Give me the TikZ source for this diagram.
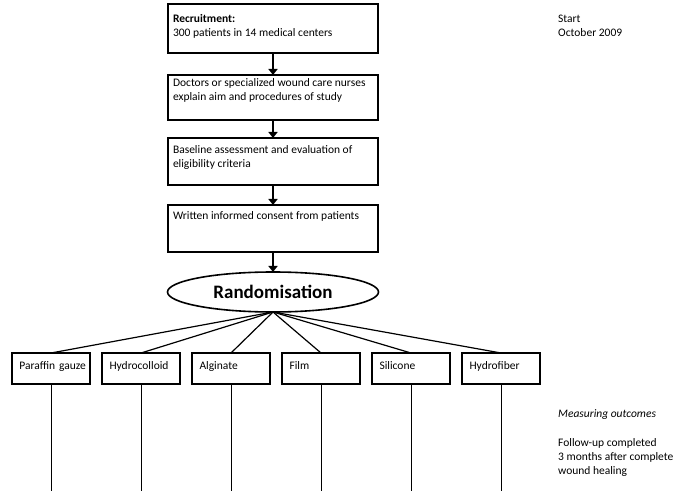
\documentclass[tikz,border=0pt]{standalone}
\usepackage{fontspec}
\setmainfont{Carlito}
\usetikzlibrary{shapes.geometric,arrows.meta,positioning}
\newcommand{\steptext}[2][31pt]{\parbox[b][#1][t]{200pt}{#2}}
\tikzset{
	stepbox/.style={rectangle, draw=black, line width=1.6pt, minimum width=210pt,
		minimum height=47pt, inner xsep=5pt, inner ysep=0pt, outer sep=0pt,
		font=\fontsize{11.5}{14}\selectfont, anchor=north},
	randnode/.style={ellipse, draw=black, line width=1.6pt, minimum width=211pt,
		minimum height=40pt, font=\fontsize{19}{22}\selectfont\bfseries, inner sep=0pt, outer sep=0pt},
	armbox/.style={rectangle, draw=black, line width=1.4pt, minimum width=78pt,
		minimum height=31pt, text width=63pt, align=left, font=\fontsize{11.5}{14}\selectfont,
		text height=8pt, text depth=5pt, inner xsep=7.5pt, outer sep=0pt, anchor=north},
	flowarr/.style={-{Triangle[length=6pt,width=9pt]}, line width=1.6pt},
	armline/.style={line width=1.2pt},
	sideinfo/.style={anchor=north west, align=left, inner sep=0pt,
		font=\fontsize{11.5}{14}\selectfont}
}
\begin{document}
\begin{tikzpicture}[x=1pt, y=-1pt]
	\useasboundingbox (0,0) rectangle (685,502);
	% enrolment steps
	\node[stepbox, minimum height=49pt] (recruit) at (273,4) {\steptext[29pt]{\textbf{Recruitment:}\\300 patients in 14 medical centers}};
	\node[stepbox, below=22pt of recruit.south, minimum height=45pt] (explain) {\steptext[37pt]{Doctors or specialized wound care nurses\\explain aim and procedures of study}};
	\node[stepbox, below=18pt of explain.south] (baseline) {\steptext{Baseline assessment and evaluation of\\eligibility criteria}};
	\node[stepbox, below=20pt of baseline.south] (consent) {\steptext[33pt]{Written informed consent from patients}};
	\node[randnode, below=20pt of consent.south, anchor=north] (rand) {Randomisation};
	\draw[flowarr] (recruit) -- (explain);
	\draw[flowarr] (explain) -- (baseline);
	\draw[flowarr] (baseline) -- (consent);
	\draw[flowarr] (consent) -- (rand);
	% dressing groups
	\node[armbox] (paraffin) at (51,353) {Paraffin~gauze};
	\node[armbox, right=12pt of paraffin.north east, anchor=north west] (hydrocol) {Hydrocolloid};
	\node[armbox, right=12pt of hydrocol.north east, anchor=north west] (alginate) {Alginate};
	\node[armbox, right=12pt of alginate.north east, anchor=north west] (film) {Film};
	\node[armbox, right=12pt of film.north east, anchor=north west] (silicone) {Silicone};
	\node[armbox, right=12pt of silicone.north east, anchor=north west] (hydrofib) {Hydrofiber};
	\draw[armline] (rand.south) -- (paraffin.north);
	\draw[armline] (rand.south) -- (hydrocol.north);
	\draw[armline] (rand.south) -- (alginate.north);
	\draw[armline] (rand.south) -- (film.north);
	\draw[armline] (rand.south) -- (silicone.north);
	\draw[armline] (rand.south) -- (hydrofib.north);
	% follow-up lines
	\coordinate[below=107pt of paraffin.south] (endA);
	\coordinate[below=107pt of hydrocol.south] (endB);
	\coordinate[below=107pt of alginate.south] (endC);
	\coordinate[below=107pt of film.south] (endD);
	\coordinate[below=107pt of silicone.south] (endE);
	\coordinate[below=107pt of hydrofib.south] (endF);
	\draw[line width=0.9pt] (paraffin.south) -- (endA);
	\draw[line width=0.9pt] (hydrocol.south) -- (endB);
	\draw[line width=0.9pt] (alginate.south) -- (endC);
	\draw[line width=0.9pt] (film.south) -- (endD);
	\draw[line width=0.9pt] (silicone.south) -- (endE);
	\draw[line width=0.9pt] (hydrofib.south) -- (endF);
	% time line notes
	\node[sideinfo] (start) at (558,15) {Start\\October 2009};
	\node[sideinfo] (measure) at (558,409) {\textit{Measuring outcomes}};
	\node[sideinfo, below=19pt of measure.south west, anchor=north west] (follow) {Follow-up completed\\3 months after complete\\wound healing};
\end{tikzpicture}
\end{document}
